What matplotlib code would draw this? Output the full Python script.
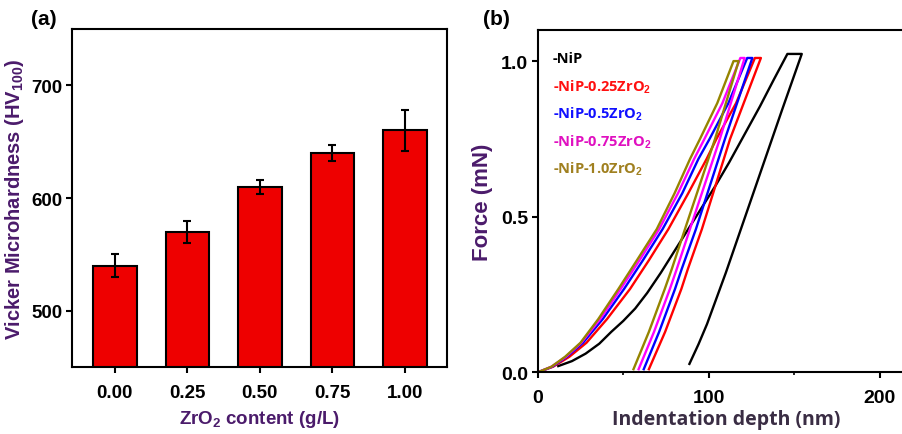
import matplotlib
matplotlib.use("Agg")
import matplotlib.pyplot as plt
from matplotlib.ticker import MultipleLocator

# ---------------- data: panel (a) ----------------
zro2_content = [0.00, 0.25, 0.50, 0.75, 1.00]
hardness = [540, 570, 610, 640, 660]
hardness_err = [10, 10, 6, 7, 18]
xtick_labels_a = ["0.00", "0.25", "0.50", "0.75", "1.00"]

# ---------------- data: panel (b) ----------------
series_names = ["-NiP", "-NiP-0.25ZrO$_2$", "-NiP-0.5ZrO$_2$", "-NiP-0.75ZrO$_2$", "-NiP-1.0ZrO$_2$"]

nip_h = [12, 20, 28, 36, 43, 50, 57, 64, 72, 80, 88, 96, 104, 112, 120, 130, 138, 146,
         154.4, 143, 132, 121, 110, 104, 99, 94, 88.7]
nip_F = [0.02, 0.036, 0.06, 0.092, 0.13, 0.165, 0.205, 0.255, 0.32, 0.39, 0.46, 0.53, 0.60, 0.675,
         0.755, 0.855, 0.94, 1.023,
         1.023, 0.845, 0.67, 0.495, 0.32, 0.23, 0.155, 0.09, 0.027]

zr025_h = [0, 9, 18.5, 28.5, 40.5, 54, 65, 76.4, 88, 98.8, 104.5, 116, 127,
           130.5, 112.5, 96, 87.8, 84, 74.5, 65]
zr025_F = [0, 0.018, 0.05, 0.095, 0.171, 0.268, 0.36, 0.46, 0.575, 0.686, 0.75, 0.865, 1.01,
           1.01, 0.75, 0.46, 0.332, 0.268, 0.13, 0.01]

zr05_h = [0, 8.5, 17, 26.5, 38, 50.5, 61.5, 73, 84.5, 94, 100.5, 111.5, 122.5,
          125.5, 109.5, 92.5, 84.2, 80.3, 71, 62]
zr05_F = [0, 0.018, 0.05, 0.095, 0.171, 0.268, 0.36, 0.46, 0.575, 0.686, 0.75, 0.865, 1.01,
          1.01, 0.75, 0.46, 0.332, 0.268, 0.13, 0.01]

zr075_h = [0, 8, 16.5, 25.5, 36.5, 48.5, 59.5, 71, 82, 91.5, 97.5, 108, 118.5,
           121, 106.5, 89, 81.3, 77.3, 68, 59]
zr075_F = [0, 0.018, 0.05, 0.095, 0.171, 0.268, 0.36, 0.46, 0.575, 0.686, 0.75, 0.865, 1.01,
           1.01, 0.75, 0.46, 0.332, 0.268, 0.13, 0.01]

zr10_h = [0, 8, 16, 25, 35.4, 47.2, 58, 69.6, 80, 89.1, 94.9, 105, 114.5,
          117.5, 103.7, 86.1, 78.4, 74.3, 65, 56]
zr10_F = [0, 0.018, 0.05, 0.095, 0.171, 0.268, 0.36, 0.46, 0.575, 0.686, 0.75, 0.865, 1.0,
          1.0, 0.75, 0.46, 0.332, 0.268, 0.13, 0.01]

curves_h = [nip_h, zr025_h, zr05_h, zr075_h, zr10_h]
curves_F = [nip_F, zr025_F, zr05_F, zr075_F, zr10_F]

# ---------------- styles ----------------
line_colors = ["#000000", "#ff0000", "#0000ff", "#ff00ff", "#958400"]
text_colors = ["#000000", "#ff1010", "#1010ff", "#e010c0", "#a08020"]
purple = "#4b1b6b"
FONT = "Liberation Sans"

plt.rcParams["font.family"] = [FONT, "DejaVu Sans"]
plt.rcParams["font.weight"] = "bold"
plt.rcParams["mathtext.fontset"] = "custom"
plt.rcParams["mathtext.rm"] = FONT + ":bold"
plt.rcParams["mathtext.it"] = FONT + ":bold"
plt.rcParams["mathtext.bf"] = FONT + ":bold"
plt.rcParams["mathtext.default"] = "bf"

fig = plt.figure(figsize=(9.03, 4.35), dpi=100)

# ---------------- panel (a) ----------------
axa = fig.add_axes([0.0797, 0.154, 0.4153, 0.777])
axa.bar(zro2_content, hardness, width=0.15, color="#ee0000", edgecolor="black", linewidth=1.5,
        yerr=hardness_err, error_kw=dict(ecolor="black", elinewidth=1.5, capsize=3, capthick=1.5),
        zorder=2)
axa.set_xlim(-0.148, 1.145)
axa.set_ylim(450, 750)
axa.set_yticks([500, 600, 700])
axa.set_xticks(zro2_content)
axa.set_xticklabels(xtick_labels_a)
for sp in axa.spines.values():
    sp.set_linewidth(1.5)
axa.tick_params(direction="out", length=4, width=1.5, labelsize=13.5, pad=3)
axa.tick_params(axis="x", pad=8)
axa.set_ylabel("Vicker Microhardness (HV$_{100}$)", color=purple, fontsize=14.5,
               fontweight="bold", labelpad=4)
axa.set_xlabel("ZrO$_2$ content (g/L)", color=purple, fontsize=13.5, fontweight="bold", labelpad=5)
fig.text(0.034, 0.955, "(a)", fontsize=15, fontweight="bold", ha="left", va="center")

# ---------------- panel (b) ----------------
axb = fig.add_axes([0.5955, 0.1418, 0.4166, 0.787])
for h, F, c in zip(curves_h, curves_F, line_colors):
    axb.plot(h, F, color=c, linewidth=1.7, solid_joinstyle="round")
axb.set_xlim(0, 220)
axb.set_ylim(0, 1.1)
axb.set_xticks([0, 100, 200])
axb.xaxis.set_minor_locator(MultipleLocator(50))
axb.set_yticks([0.0, 0.5, 1.0])
axb.set_yticklabels(["0.0", "0.5", "1.0"])
for sp in axb.spines.values():
    sp.set_linewidth(1.5)
axb.tick_params(direction="out", length=4, width=1.5, labelsize=14, pad=3)
axb.tick_params(axis="x", which="minor", direction="out", length=2.5, width=1.2)
axb.tick_params(axis="x", pad=8)
axb.set_ylabel("Force (mN)", color=purple, fontsize=16, fontweight="bold", labelpad=6)
axb.set_xlabel("Indentation depth (nm)", color="#3a2d44", fontsize=14, fontweight="bold",
               family=["Open Sans", "DejaVu Sans"], labelpad=2)
fig.text(0.535, 0.955, "(b)", fontsize=15, fontweight="bold", ha="left", va="center")

for i, (name, tc) in enumerate(zip(series_names, text_colors)):
    axb.text(0.04, 0.917 - i * 0.0805, name, transform=axb.transAxes, color=tc,
             fontsize=10.5, fontweight="bold", family=["Open Sans", "DejaVu Sans"],
             ha="left", va="center")

fig.savefig("out.png", dpi=100)
